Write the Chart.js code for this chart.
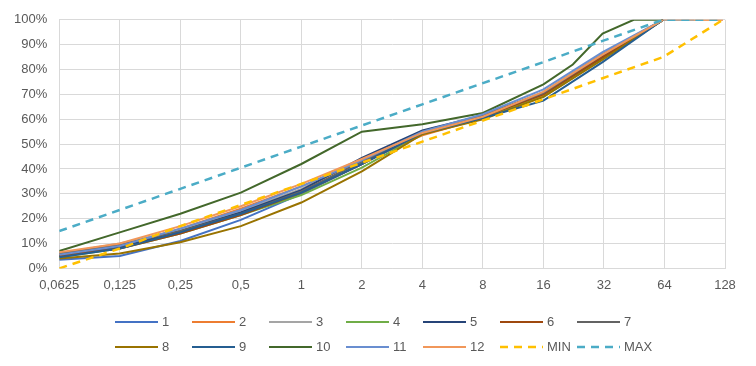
<!DOCTYPE html>
<html>
<head>
<meta charset="utf-8">
<script src="https://cdn.jsdelivr.net/npm/chart.js@4"></script>
<style>
  body { margin: 0; background: #fff; }
  #wrap { position: relative; width: 756px; height: 366px; }
  #legend {
    position: absolute; left: 115px; top: 309px;
    display: grid; grid-template-columns: repeat(7, 77px); grid-auto-rows: 25px;
    font-family: "Liberation Sans", Arial, sans-serif; font-size: 13px; color: #595959;
  }
  #legend div { display: flex; align-items: center; white-space: nowrap; }
  #legend svg { margin-right: 4px; }
</style>
</head>
<body>
<div id="wrap">
  <canvas id="myChart" width="756" height="366"></canvas>
  <div id="legend"></div>
</div>
<script>
// sieve sizes (mm) and x tick labels
const sieve = [0.0625, 0.125, 0.25, 0.5, 1, 2, 4, 8, 16, 22.4, 31.5, 45, 63, 90, 125];
const xTickLabels = ['0,0625', '0,125', '0,25', '0,5', '1', '2', '4', '8', '16', '32', '64', '128'];

// passing (%) per sample
const s1  = [3.5, 5, 11, 19.5, 30, 42, 54.5, 61, 70, null, 85, null, 100, null, null];
const s2  = [5.5, 9, 16, 24, 33, 43, 53.5, 60.5, 69.5, null, 85.5, null, 100, 100, 100];
const s3  = [6, 10, 15.5, 23, 32, 44, 55, 61.5, 71, null, 86.5, null, 100, 100, null];
const s4  = [4.5, 8, 14, 21.5, 29.5, 40.5, 54, 61, 69, null, 84.5, null, 100, null, null];
const s5  = [5, 8.5, 15, 22.5, 31.5, 44.5, 55.5, 61.5, 70.5, null, 85, null, 100, null, null];
const s6  = [5, 8, 14, 21.5, 30.5, 42, 54.5, 61, 70, null, 85, null, 100, null, null];
const s7  = [6, 9.5, 15, 22, 31, 43, 55, 61.5, 70.5, null, 86, null, 100, null, null];
const s8  = [4, 6, 10.5, 17, 26.5, 39, 54, 60, 69, null, 84, null, 100, null, null];
const s9  = [4.5, 8, 14.5, 22, 30.5, 42, 54.5, 60.5, 67.5, null, 83, null, 100, null, null];
const s10 = [7, 14.5, 22, 30.5, 42, 55, 58, 62.5, 74, 82, 94.5, 100, 100, null, null];
const s11 = [5.5, 9, 16, 23.5, 33, 43.5, 55, 62, 72, null, 87, null, 100, null, null];
const s12 = [6.5, 10, 17, 25, 34, 44, 54.5, 61, 71, null, 86, null, 100, null, null];
const minLimit = [0, 8, 17, 25.5, 34, 42.5, 51, 59.5, 68, null, 76.5, null, 85, null, 100];
const maxLimit = [15, 23.5, 32, 40.5, 49, 57.5, 66, 74.5, 83, null, 91.5, null, 100, null, 100];

const series = [
  ['1', s1, '#4472C4'], ['2', s2, '#ED7D31'], ['3', s3, '#A5A5A5'], ['4', s4, '#70AD47'],
  ['5', s5, '#264478'], ['6', s6, '#9E480E'], ['7', s7, '#636363'], ['8', s8, '#997300'],
  ['9', s9, '#255E91'], ['10', s10, '#43682B'], ['11', s11, '#698ED0'], ['12', s12, '#F1975A'],
  ['MIN', minLimit, '#FFC000', true], ['MAX', maxLimit, '#4BACC6', true]
];

const datasets = series.map(([label, vals, color, dashed], i) => ({
  label: label,
  data: sieve.map((s, j) => ({ x: Math.log2(s / 0.0625) - 4, y: vals[j] })),
  borderColor: color,
  backgroundColor: color,
  borderWidth: dashed ? 2.5 : 2,
  borderDash: dashed ? [8, 6] : [],
  pointRadius: 0,
  tension: 0,
  spanGaps: true,
  order: series.length - i
}));

const font = { family: '"Liberation Sans", Arial, sans-serif', size: 13 };

const ctx = document.getElementById('myChart');
const myChart = new Chart(ctx, {
  type: 'line',
  data: { datasets: datasets },
  options: {
    responsive: false,
    animation: false,
    layout: { padding: { left: 2, right: 31, top: 15, bottom: 64 } },
    plugins: {
      legend: { display: false },
      title: { display: false },
      tooltip: { enabled: false }
    },
    scales: {
      x: {
        type: 'linear',
        min: -4,
        max: 7,
        grid: { color: '#D9D9D9', drawTicks: false },
        border: { color: '#D9D9D9' },
        ticks: {
          stepSize: 1,
          padding: 9,
          color: '#595959',
          font: font,
          maxRotation: 0,
          autoSkip: false,
          callback: function(value) {
            return xTickLabels[Math.round(value) + 4];
          }
        }
      },
      y: {
        min: 0,
        max: 100,
        grid: { color: '#D9D9D9', drawTicks: false },
        border: { color: '#D9D9D9' },
        ticks: {
          stepSize: 10,
          padding: 12,
          color: '#595959',
          font: font,
          callback: function(value) {
            return value + '%';
          }
        }
      }
    }
  }
});

// legend in Excel style grid
const legend = document.getElementById('legend');
datasets.forEach(ds => {
  const item = document.createElement('div');
  const dashed = ds.borderDash.length > 0;
  item.innerHTML = '<svg width="43" height="6"><line x1="0" y1="3" x2="43" y2="3" stroke="' +
    ds.borderColor + '" stroke-width="' + (dashed ? 2.5 : 2) + '" ' +
    (dashed ? 'stroke-dasharray="8 6"' : '') + '/></svg>';
  const t = document.createElement('span');
  t.textContent = ds.label;
  item.appendChild(t);
  legend.appendChild(item);
});
</script>
</body>
</html>
